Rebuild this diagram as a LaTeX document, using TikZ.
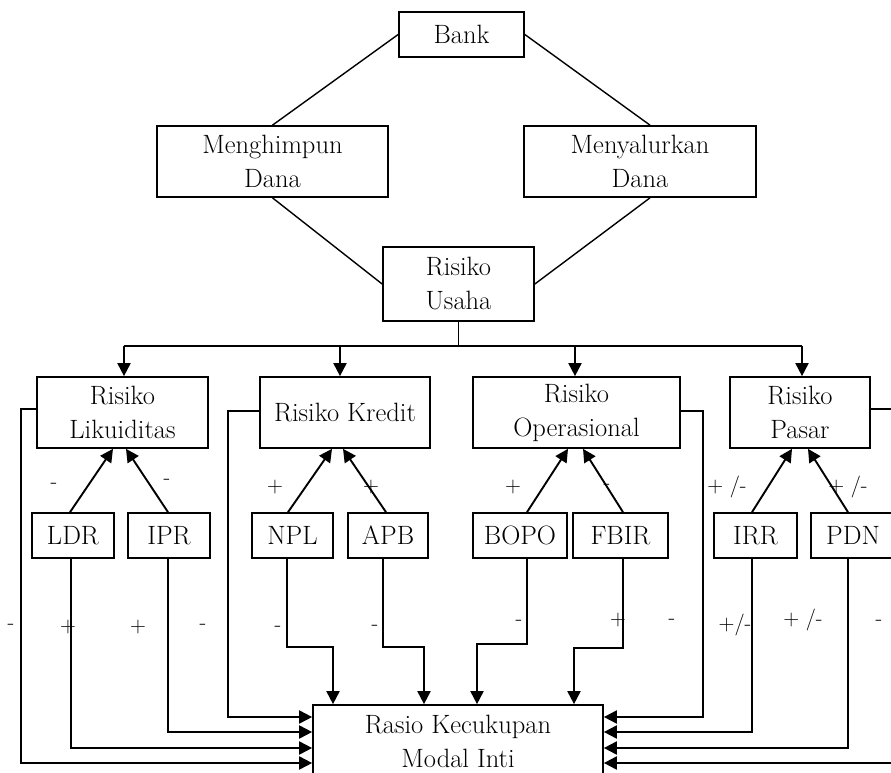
\documentclass[tikz,border=0pt]{standalone}
\usetikzlibrary{arrows.meta}
\begin{document}
\begin{tikzpicture}[x=1pt,y=-1pt,
  box/.style={draw, line width=1.7pt, inner sep=0pt, align=center, font=\fontsize{26.5}{34}\selectfont},
  lbl/.style={font=\fontsize{22}{26}\selectfont, inner sep=0pt},
  arr/.style={line width=1.9pt, -{Triangle[length=13pt,width=13pt]}},
  conn/.style={line width=1.9pt},
  diag/.style={line width=1.4pt}]
\useasboundingbox (0,0) rectangle (891,773);
\clip (0,0) rectangle (891,773);
% top
\node[box, minimum width=125pt, minimum height=45pt] (bank) at (461.5,34.5) {Bank};
\node[box, minimum width=231pt, minimum height=71pt] (mh) at (272.5,161.5) {Menghimpun\\Dana};
\node[box, minimum width=232pt, minimum height=71pt] (my) at (640,161.5) {Menyalurkan\\Dana};
\node[box, minimum width=151pt, minimum height=74pt] (ru) at (458.5,284) {Risiko\\Usaha};
% level 2
\node[box, minimum width=171pt, minimum height=71pt] (rl) at (122.5,412.5) {Risiko\\Likuiditas};
\node[box, minimum width=170pt, minimum height=71pt] (rk) at (345,412.5) {Risiko Kredit};
\node[box, minimum width=207pt, minimum height=71pt] (ro) at (576.5,412.5) {Risiko\\Operasional};
\node[box, minimum width=140pt, minimum height=71pt] (rp) at (800,412.5) {Risiko\\Pasar};
% level 3
\node[box, minimum width=82pt, minimum height=45pt] (ldr) at (73,535.5) {LDR};
\node[box, minimum width=82pt, minimum height=45pt] (ipr) at (169,535.5) {IPR};
\node[box, minimum width=81pt, minimum height=45pt] (npl) at (292.5,535.5) {NPL};
\node[box, minimum width=80pt, minimum height=45pt] (apb) at (388,535.5) {APB};
\node[box, minimum width=94pt, minimum height=45pt] (bopo) at (520,535.5) {BOPO};
\node[box, minimum width=95pt, minimum height=45pt] (fbir) at (620.5,535.5) {FBIR};
\node[box, minimum width=83pt, minimum height=45pt] (irr) at (755.5,535.5) {IRR};
\node[box, minimum width=84pt, minimum height=45pt] (pdn) at (853,535.5) {PDN};
% bottom
\node[box, minimum width=290pt, minimum height=72pt] (rkmi) at (458,741) {Rasio Kecukupan\\Modal Inti};
% diagonals
\draw[diag] (bank.west) -- (mh.north);
\draw[diag] (bank.east) -- ([xshift=10pt]my.north);
\draw[diag] (mh.south) -- (ru.west);
\draw[diag] ([xshift=10pt]my.south) -- (ru.east);
% bus
\coordinate (bus) at (459,346);
\draw[conn] (ru.south) -- (ru.south |- bus);
\draw[conn] ([xshift=1.5pt]rl.north |- bus) -- ([xshift=2pt]rp.north |- bus);
\draw[arr] ([xshift=1.5pt]rl.north |- bus) -- ([xshift=1.5pt]rl.north);
\draw[arr] ([xshift=-5pt]rk.north |- bus) -- ([xshift=-5pt]rk.north);
\draw[arr] ([xshift=-1.5pt]ro.north |- bus) -- ([xshift=-1.5pt]ro.north);
\draw[arr] ([xshift=2pt]rp.north |- bus) -- ([xshift=2pt]rp.north);
% up arrows
\draw[arr] ([xshift=-3pt]ldr.north) -- ([xshift=-9.5pt]rl.south);
\draw[arr] ([xshift=-1pt]ipr.north) -- ([xshift=3.5pt]rl.south);
\draw[arr] ([xshift=-4.5pt]npl.north) -- ([xshift=-13pt]rk.south);
\draw[arr] ([xshift=-2pt]apb.north) -- ([xshift=-2pt]rk.south);
\draw[arr] ([xshift=7pt]bopo.north) -- ([xshift=-8.5pt]ro.south);
\draw[arr] ([xshift=2.5pt]fbir.north) -- ([xshift=6.5pt]ro.south);
\draw[arr] ([xshift=-3.5pt]irr.north) -- ([xshift=-8pt]rp.south);
\draw[arr] ([xshift=-5pt]pdn.north) -- ([xshift=8pt]rp.south);
% left side into rkmi
\draw[arr] ([yshift=3.5pt]rl.west) -- ++(-15,0) |- ([yshift=-22pt]rkmi.west);
\draw[arr] ([yshift=1.5pt]rk.west) -- ++(-31,0) |- ([yshift=24pt]rkmi.west);
\draw[arr] ([xshift=-1pt]ipr.south) |- ([yshift=9pt]rkmi.west);
\draw[arr] ([xshift=-2pt]ldr.south) |- ([yshift=-7pt]rkmi.west);
% top into rkmi
\draw[arr] ([xshift=-5.5pt]npl.south) -- ++(0,88) -| ([xshift=-125pt]rkmi.north);
\draw[arr] ([xshift=-5pt]apb.south) -- ++(0,88) -| ([xshift=-34pt]rkmi.north);
\draw[arr] ([xshift=7pt]bopo.south) -- ++(0,85) -| ([xshift=19pt]rkmi.north);
\draw[arr] ([xshift=2.5pt]fbir.south) -- ++(0,89) -| ([xshift=116pt]rkmi.north);
% right side into rkmi
\draw[arr] ([yshift=1.5pt]ro.east) -- ++(22,0) |- ([yshift=24pt]rkmi.east);
\draw[arr] ([xshift=-3.5pt]irr.south) |- ([yshift=9pt]rkmi.east);
\draw[arr] ([xshift=-5pt]pdn.south) |- ([yshift=-7pt]rkmi.east);
\draw[arr] ([yshift=3.5pt]rp.east) -- ++(35,0) |- ([yshift=-22pt]rkmi.east);
% labels row 1
\node[lbl] (l1) at (54,486) {-};
\node[lbl] (l2) at (167,482) {-};
\node[lbl] (l3) at (275,487) {+};
\node[lbl] (l4) at (371,487) {+};
\node[lbl] (l5) at (513,487) {+};
\node[lbl] (l6) at (607,487) {-};
\node[lbl] (l7) at (727,487) {+ /-};
\node[lbl] (l8) at (848,487) {+ /-};
% labels row 2
\node[lbl] (m1) at (11,627) {-};
\node[lbl] (m2) at (68,627) {+};
\node[lbl] (m3) at (138,627) {+};
\node[lbl] (m4) at (203,627) {-};
\node[lbl] (m5) at (278,629) {-};
\node[lbl] (m6) at (375,628) {-};
\node[lbl] (m7) at (519,623) {-};
\node[lbl] (m8) at (618,620) {+};
\node[lbl] (m9) at (672,622) {-};
\node[lbl] (m10) at (735,625) {+/-};
\node[lbl] (m11) at (803,620) {+ /-};
\node[lbl] (m12) at (879,623) {-};
\end{tikzpicture}
\end{document}
